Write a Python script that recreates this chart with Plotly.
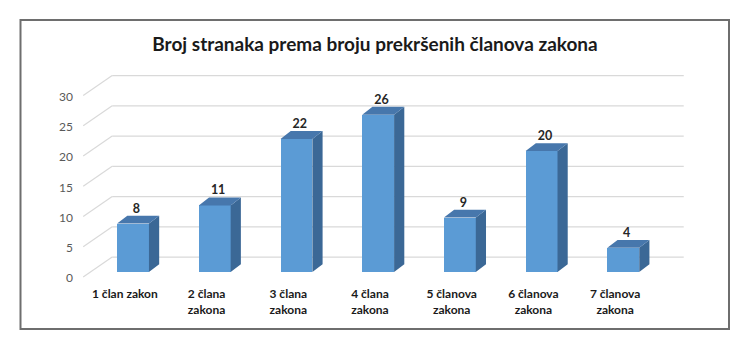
import plotly.graph_objects as go

categories = ["1 član zakon", "2 člana<br>zakona", "3 člana<br>zakona", "4 člana<br>zakona",
              "5 članova<br>zakona", "6 članova<br>zakona", "7 članova<br>zakona"]
values = [8, 11, 22, 26, 9, 20, 4]
y_ticks = [0, 5, 10, 15, 20, 25, 30]
title = "Broj stranaka prema broju prekršenih članova zakona"

# pseudo-3D geometry (in axis units)
W = 0.39             # bar width
DX, DY = 0.125, 1.3  # bar depth offset
WALL_DX, WALL_DY = 0.355, 3.3  # floor/wall depth
FRONT_X = -0.61
GRID_DY0 = -0.83
WALL_RIGHT = 6.74

FRONT = "#5B9BD5"
TOP = "#4777AC"
SIDE = "#3B6896"
GRID = "#D9D9D9"

xs = list(range(len(values)))
fig = go.Figure()

# side faces
sx, sy = [], []
for x, v in zip(xs, values):
    r = x + W / 2
    sx += [r, r + DX, r + DX, r, r, None]
    sy += [0, DY, v + DY, v, 0, None]
fig.add_trace(go.Scatter(x=sx, y=sy, mode="lines", fill="toself", fillcolor=SIDE,
                         line=dict(width=0, color=SIDE), hoverinfo="skip", showlegend=False))

# top faces
tx, ty = [], []
for x, v in zip(xs, values):
    l, r = x - W / 2, x + W / 2
    tx += [l, r, r + DX, l + DX, l, None]
    ty += [v, v, v + DY, v + DY, v, None]
fig.add_trace(go.Scatter(x=tx, y=ty, mode="lines", fill="toself", fillcolor=TOP,
                         line=dict(width=0, color=TOP), hoverinfo="skip", showlegend=False))

# front faces
fig.add_trace(go.Bar(x=xs, y=values, width=W, marker=dict(color=FRONT, line=dict(width=0)),
                     showlegend=False))

# value labels
fig.add_trace(go.Scatter(x=[x + DX / 3 for x in xs], y=[v + DY for v in values], mode="text",
                         text=["<b>" + str(v) + "</b>" for v in values], textposition="top center",
                         textfont=dict(family="Lato", size=12.5, color="#262626"),
                         hoverinfo="skip", showlegend=False))

# gridlines (wall + diagonal) as below-layer shapes
shapes = []
for v in y_ticks:
    y0 = v + GRID_DY0
    shapes.append(dict(type="line", xref="x", yref="y", x0=FRONT_X, y0=y0,
                       x1=FRONT_X + WALL_DX, y1=y0 + WALL_DY,
                       line=dict(color=GRID, width=1.2), layer="below"))
    shapes.append(dict(type="line", xref="x", yref="y", x0=FRONT_X + WALL_DX, y0=y0 + WALL_DY,
                       x1=WALL_RIGHT, y1=y0 + WALL_DY,
                       line=dict(color=GRID, width=1.2), layer="below"))

L, R, T, B = 80, 58, 70, 66
shapes.append(dict(type="rect", xref="paper", yref="paper",
                   x0=(20.5 - L) / (750 - L - R), x1=(729 - L) / (750 - L - R),
                   y0=(351 - B - 329) / (351 - T - B), y1=(351 - B - 20) / (351 - T - B),
                   line=dict(color="#6E6E6E", width=2), layer="below"))

fig.update_layout(
    width=750, height=351,
    margin=dict(l=L, r=R, t=T, b=B),
    paper_bgcolor="white", plot_bgcolor="white",
    title=dict(text="<b>" + title + "</b>", x=0.5, xanchor="center", y=0.875, yanchor="middle",
               font=dict(family="Lato", size=19, color="#1a1a1a")),
    xaxis=dict(range=[-0.649, 6.841], tickvals=[x - 0.1 for x in xs],
               ticktext=["<b>" + c + "</b>" for c in categories],
               showgrid=False, zeroline=False, showline=False, ticks="",
               tickfont=dict(family="Lato", size=12, color="#1a1a1a")),
    yaxis=dict(range=[-2.149, 33.39], tickvals=[v - 1.0 for v in y_ticks], ticktext=[str(v) for v in y_ticks],
               showgrid=False, zeroline=False, showline=False, ticks="", ticklabelstandoff=6,
               tickfont=dict(family="Lato", size=12, color="#595959")),
    bargap=0,
    shapes=shapes,
)

fig.write_html("out.html")
